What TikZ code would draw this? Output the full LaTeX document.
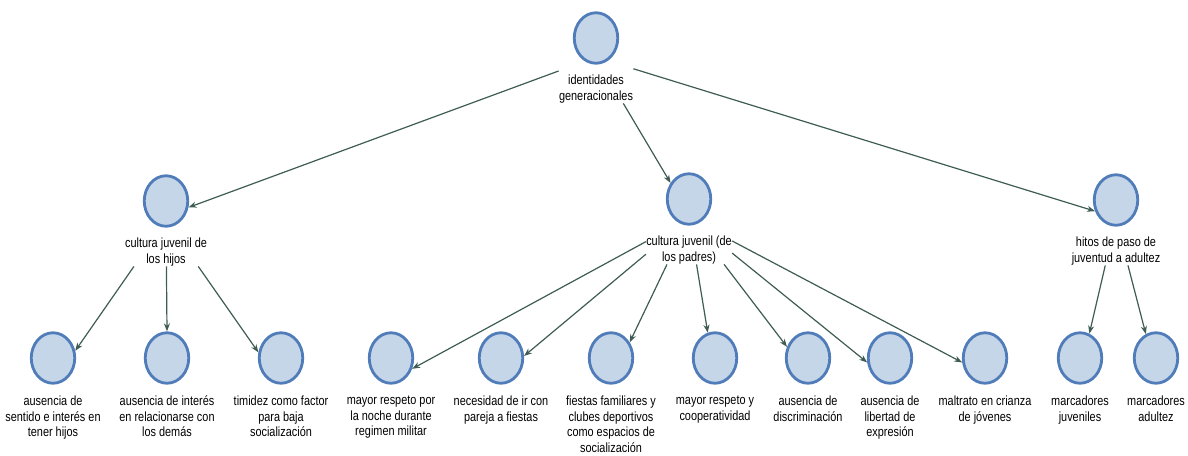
\documentclass[tikz,border=0pt]{standalone}
\usepackage{fontspec}
\setmainfont{Liberation Sans}[FakeStretch=0.82]
\usetikzlibrary{shapes.geometric,arrows.meta,fit}
\definecolor{cfill}{RGB}{197,214,233}
\definecolor{cborder}{RGB}{80,124,185}
\definecolor{cedge}{RGB}{62,92,84}
\tikzset{
  concept/.style={ellipse, draw=cborder, line width=2.8pt, fill=cfill,
    minimum width=43.5pt, minimum height=50.5pt, inner sep=0pt},
  lbl/.style={align=center, inner sep=0pt, anchor=north,
    font=\fontsize{13.3}{15.4}\selectfont},
  grp/.style={inner sep=0pt},
  edge/.style={draw=cedge, line width=1.2pt, -{Stealth[length=8pt,width=6pt]}}
}
\begin{document}
\begin{tikzpicture}[x=1pt,y=-1pt]
\useasboundingbox (0,0) rectangle (1188,455);
% top
\node[concept] (tc) at (596,38) {};
\node[lbl] (tl) at (596,75) {identidades\\generacionales};
\node[grp, fit=(tc)(tl)] (t) {};
% level 2
\node[concept] (hc) at (166,201) {};
\node[lbl] (hl) at (166,238) {cultura juvenil de\\los hijos};
\node[grp, fit=(hc)(hl)] (h) {};
\node[concept] (pc) at (689,199) {};
\node[lbl] (pl) at (689,236) {cultura juvenil (de\\los padres)};
\node[grp, fit=(pc)(pl)] (p) {};
\node[concept] (ic) at (1116,200) {};
\node[lbl] (il) at (1116,237) {hitos de paso de\\juventud a adultez};
\node[grp, fit=(ic)(il)] (i) {};
% level 3
\node[concept] (n1) at (53,358) {};
\node[lbl] (l1) at (53,396) {ausencia de\\sentido e interés en\\tener hijos};
\node[concept] (n2) at (167,358) {};
\node[lbl] (l2) at (167,396) {ausencia de interés\\en relacionarse con\\los demás};
\node[concept] (n3) at (281,358) {};
\node[lbl] (l3) at (281,396) {timidez como factor\\para baja\\socialización};
\node[concept] (n4) at (391,358) {};
\node[lbl] (l4) at (391,396) {mayor respeto por\\la noche durante\\regimen militar};
\node[concept] (n5) at (501,358) {};
\node[lbl] (l5) at (501,396) {necesidad de ir con\\pareja a fiestas};
\node[concept] (n6) at (611,358) {};
\node[lbl] (l6) at (611,396) {fiestas familiares y\\clubes deportivos\\como espacios de\\socialización};
\node[concept] (n7) at (715,358) {};
\node[lbl] (l7) at (715,396) {mayor respeto y\\cooperatividad};
\node[concept] (n8) at (808,358) {};
\node[lbl] (l8) at (808,396) {ausencia de\\discriminación};
\node[concept] (n9) at (890,358) {};
\node[lbl] (l9) at (890,396) {ausencia de\\libertad de\\expresión};
\node[concept] (n10) at (985,358) {};
\node[lbl] (l10) at (985,396) {maltrato en crianza\\de jóvenes};
\node[concept] (n11) at (1080,358) {};
\node[lbl] (l11) at (1080,396) {marcadores\\juveniles};
\node[concept] (n12) at (1156,358) {};
\node[lbl] (l12) at (1156,396) {marcadores\\adultez};
% connectors
\draw[edge] (t) -- (hc.-16);
\draw[edge] (t) -- (pc.139);
\draw[edge] (t) -- (ic.-152);
\draw[edge] (h) -- (n1.18);
\draw[edge] (h) -- (n2.90);
\draw[edge] (h) -- (n3.166);
\draw[edge] (p) -- (n4.-27);
\draw[edge] (p) -- (n5.5);
\draw[edge] (p) -- (n6.40);
\draw[edge] (p) -- (n7.106);
\draw[edge] (p) -- (n8.152);
\draw[edge] (p) -- (n9.-169);
\draw[edge] (p) -- (n10.-169);
\draw[edge] (i) -- (n11.69);
\draw[edge] (i) -- (n12.113);
\end{tikzpicture}
\end{document}
